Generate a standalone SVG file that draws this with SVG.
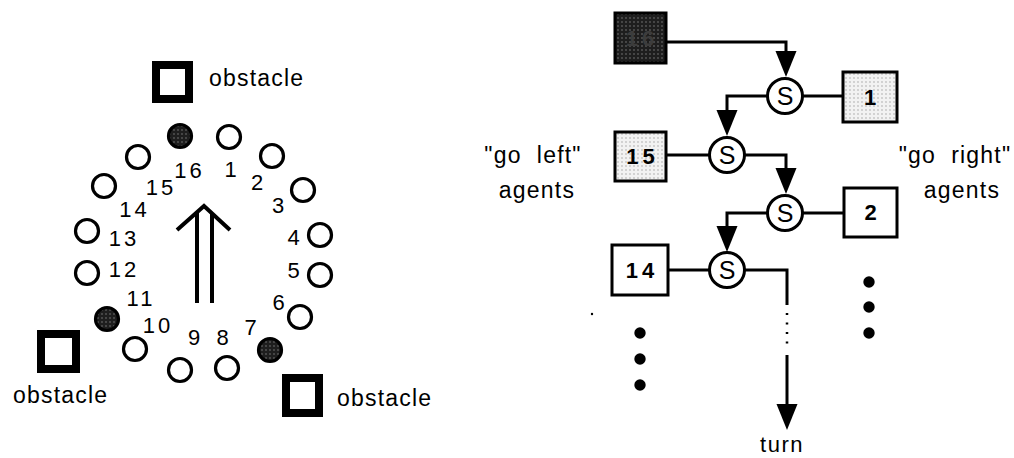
<svg xmlns="http://www.w3.org/2000/svg" xmlns:xlink="http://www.w3.org/1999/xlink" width="1014" height="458" viewBox="0 0 1014 458">
<style>
text{font-family:"Liberation Sans",Arial,sans-serif;fill:#000}
.num{font-size:22px;letter-spacing:3px;text-anchor:middle}
.lbl{font-size:23px;letter-spacing:1.2px}
.agent{fill:#fff;stroke:#000;stroke-width:3.2}
.obst{fill:#fff;stroke:#000;stroke-width:8}
.box{stroke:#000;stroke-width:3}
.bt{font-size:22px;font-weight:bold;letter-spacing:4px;text-anchor:middle}
.sc{fill:#fff;stroke:#000;stroke-width:3}
.st{font-size:25px;text-anchor:middle}
.wire{fill:none;stroke:#000;stroke-width:3}
.dot{fill:#000}
</style>
<defs>
<pattern id="dark" width="4" height="4" patternUnits="userSpaceOnUse">
<rect width="4" height="4" fill="#1e1e1e"/><circle cx="2" cy="2" r="0.7" fill="#8a8a8a"/>
</pattern>
<pattern id="light" width="4" height="4" patternUnits="userSpaceOnUse">
<rect width="4" height="4" fill="#f2f2f2"/><circle cx="2" cy="2" r="0.7" fill="#9a9a9a"/>
</pattern>
<path id="tri" d="M-10.5,-26 L10.5,-26 L0,0 Z" fill="#000"/>
</defs>

<!-- left panel: circle of agents -->
<g id="obstacle-top"><rect class="obst" x="156" y="65" width="33" height="34"/><text class="lbl" x="209" y="86">obstacle</text></g>
<g id="obstacle-left"><rect class="obst" x="41" y="334" width="35" height="35"/><text class="lbl" x="13" y="403">obstacle</text></g>
<g id="obstacle-right"><rect class="obst" x="286" y="378" width="33" height="35"/><text class="lbl" x="337" y="406">obstacle</text></g>

<g id="agent-16"><circle class="agent" cx="180" cy="136" r="11.5" style="fill:url(#dark)"/><text class="num" x="189.5" y="178">16</text></g>
<g id="agent-1"><circle class="agent" cx="229" cy="137" r="11.5"/><text class="num" x="232" y="177">1</text></g>
<g id="agent-2"><circle class="agent" cx="272" cy="156" r="11.5"/><text class="num" x="258.5" y="190">2</text></g>
<g id="agent-3"><circle class="agent" cx="303" cy="190" r="11.5"/><text class="num" x="279.5" y="213">3</text></g>
<g id="agent-4"><circle class="agent" cx="320" cy="235" r="11.5"/><text class="num" x="295" y="245">4</text></g>
<g id="agent-5"><circle class="agent" cx="320" cy="275" r="11.5"/><text class="num" x="295" y="278">5</text></g>
<g id="agent-6"><circle class="agent" cx="300" cy="317" r="11.5"/><text class="num" x="280" y="310">6</text></g>
<g id="agent-7"><circle class="agent" cx="270" cy="350" r="11.5" style="fill:url(#dark)"/><text class="num" x="252" y="335">7</text></g>
<g id="agent-8"><circle class="agent" cx="227" cy="368" r="11.5"/><text class="num" x="224" y="345">8</text></g>
<g id="agent-9"><circle class="agent" cx="180" cy="370" r="11.5"/><text class="num" x="195.5" y="345">9</text></g>
<g id="agent-10"><circle class="agent" cx="135" cy="349" r="11.5"/><text class="num" x="158" y="333">10</text></g>
<g id="agent-11"><circle class="agent" cx="107" cy="319" r="11.5" style="fill:url(#dark)"/><text class="num" x="141" y="306">11</text></g>
<g id="agent-12"><circle class="agent" cx="87" cy="273" r="11.5"/><text class="num" x="124" y="277">12</text></g>
<g id="agent-13"><circle class="agent" cx="87" cy="231" r="11.5"/><text class="num" x="124" y="246">13</text></g>
<g id="agent-14"><circle class="agent" cx="104" cy="186" r="11.5"/><text class="num" x="134.5" y="217">14</text></g>
<g id="agent-15"><circle class="agent" cx="138" cy="157" r="11.5"/><text class="num" x="161" y="195">15</text></g>

<g id="heading-arrow" fill="none" stroke="#000" stroke-width="4">
<polyline points="177,230 204,206 230,230"/>
<line x1="197" y1="212" x2="197" y2="303"/>
<line x1="212" y1="213" x2="212" y2="303"/>
</g>

<!-- right panel: suppression network -->
<g id="connectors">
<path class="wire" d="M666,42 H786 V60"/><use xlink:href="#tri" href="#tri" x="786" y="77"/>
<path class="wire" d="M767,96 H727 V120"/><use xlink:href="#tri" href="#tri" x="727" y="136"/>
<path class="wire" d="M803,96 H843"/>
<path class="wire" d="M666,155 H709"/>
<path class="wire" d="M745,155 H786 V178"/><use xlink:href="#tri" href="#tri" x="786" y="194"/>
<path class="wire" d="M803,213 H844"/>
<path class="wire" d="M767,213 H727 V236"/><use xlink:href="#tri" href="#tri" x="727" y="252"/>
<path class="wire" d="M668,270 H709"/>
<path class="wire" d="M745,270 H787 V305"/>
<line x1="787" y1="313" x2="787" y2="348" stroke="#000" stroke-width="2.5" stroke-dasharray="2 7.5"/>
<path class="wire" d="M787,355 V412"/><use xlink:href="#tri" href="#tri" x="787" y="430"/>
</g>

<g id="box-16"><rect class="box" x="615" y="13" width="51" height="50" fill="url(#dark)"/><text class="bt" x="642" y="46" style="fill:#3c3c3c">16</text></g>
<g id="box-1"><rect class="box" x="843" y="72" width="54" height="50" fill="url(#light)"/><text class="bt" x="872" y="105">1</text></g>
<g id="box-15"><rect class="box" x="615" y="132" width="51" height="49" fill="url(#light)"/><text class="bt" x="642.5" y="164">15</text></g>
<g id="box-2"><rect class="box" x="844" y="188" width="53" height="49" fill="#fff"/><text class="bt" x="872.5" y="220">2</text></g>
<g id="box-14"><rect class="box" x="612" y="245" width="56" height="50" fill="#fff"/><text class="bt" x="642" y="278">14</text></g>

<g id="s-1"><circle class="sc" cx="785" cy="96" r="17.5"/><text class="st" x="785" y="105">S</text></g>
<g id="s-2"><circle class="sc" cx="727" cy="155" r="17.5"/><text class="st" x="727" y="164">S</text></g>
<g id="s-3"><circle class="sc" cx="785" cy="213" r="17.5"/><text class="st" x="785" y="222">S</text></g>
<g id="s-4"><circle class="sc" cx="727" cy="270" r="17.5"/><text class="st" x="727" y="279">S</text></g>

<g id="label-left"><text class="lbl" x="533" y="163" text-anchor="middle" xml:space="preserve">"go  left"</text><text class="lbl" x="537" y="198" text-anchor="middle">agents</text></g>
<g id="label-right"><text class="lbl" x="955" y="163" text-anchor="middle" xml:space="preserve">"go  right"</text><text class="lbl" x="962" y="198" text-anchor="middle">agents</text></g>
<g id="label-turn"><text x="782" y="452" text-anchor="middle" style="font-size:22px;letter-spacing:1.5px">turn</text></g>

<g id="ellipsis-left"><circle class="dot" cx="640" cy="333" r="5.7"/><circle class="dot" cx="640" cy="359" r="5.7"/><circle class="dot" cx="640" cy="385" r="5.7"/></g>
<g id="ellipsis-right"><circle class="dot" cx="869" cy="282" r="5.7"/><circle class="dot" cx="869" cy="307" r="5.7"/><circle class="dot" cx="869" cy="333" r="5.7"/></g>
<circle cx="592" cy="314" r="1.2" fill="#000"/>
</svg>
